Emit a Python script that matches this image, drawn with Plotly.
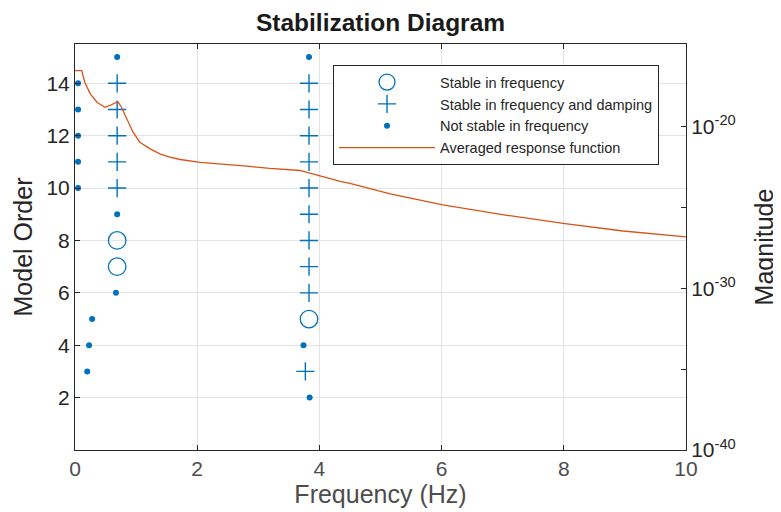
import plotly.graph_objects as go

# ---- data ----
stable_f_x = [0.69, 0.69, 3.83]
stable_f_y = [8, 7, 5]

stable_fd_x = [0.69, 0.69, 0.69, 0.69, 0.69,
               3.83, 3.83, 3.83, 3.83, 3.83, 3.83, 3.83, 3.83, 3.83, 3.77]
stable_fd_y = [14, 13, 12, 11, 10,
               14, 13, 12, 11, 10, 9, 8, 7, 6, 3]

not_stable_x = [0.05, 0.05, 0.05, 0.05, 0.05,
                0.69, 0.69, 0.67,
                0.28, 0.23, 0.20,
                3.83, 3.74, 3.84]
not_stable_y = [14, 13, 12, 11, 10,
                15, 9, 6,
                5, 4, 3,
                15, 4, 2]

resp_freq = [0.0, 0.11, 0.16, 0.25, 0.36, 0.49, 0.57, 0.70, 0.76, 0.84, 0.95,
             1.06, 1.23, 1.39, 1.55, 1.72, 2.05, 2.86, 3.19, 3.68, 3.85, 4.34,
             4.5, 5.16, 6.02, 7.07, 8.02, 8.97, 10.0]
resp_log10 = [-16.54, -16.54, -17.26, -17.98, -18.50, -18.81, -18.70, -18.46,
              -18.81, -19.43, -20.35, -20.97, -21.38, -21.69, -21.90, -22.04,
              -22.22, -22.47, -22.59, -22.72, -22.90, -23.40, -23.52, -24.16,
              -24.84, -25.49, -26.01, -26.46, -26.83]
resp_mag = [10 ** v for v in resp_log10]

x_ticks = [0, 2, 4, 6, 8, 10]
y_ticks = [2, 4, 6, 8, 10, 12, 14]
y2_tickvals = [1e-40, 1e-30, 1e-20]
y2_ticktext = ["10<sup>-40</sup>", "10<sup>-30</sup>", "10<sup>-20</sup>"]
y2_minor = [1e-35, 1e-25]

BLUE = "#0072BD"
ORANGE = "#D95319"
AX = "#262626"
XCOL = "#4d4d4d"
FONT = "Liberation Sans, Arial, sans-serif"

# the page body adds an 8 px margin, so the figure is drawn 8 px smaller
W, H = 773, 504
L, R, T, B = 67, 95, 36, 62

fig = go.Figure()
fig.add_trace(go.Scatter(
    x=stable_f_x, y=stable_f_y, mode="markers", name="Stable in frequency",
    marker=dict(symbol="circle-open", size=17.5, color=BLUE, line=dict(width=1.3, color=BLUE))))
fig.add_trace(go.Scatter(
    x=stable_fd_x, y=stable_fd_y, mode="markers", name="Stable in frequency and damping",
    marker=dict(symbol="cross-thin-open", size=13, color=BLUE, line=dict(width=1.4, color=BLUE))))
fig.add_trace(go.Scatter(
    x=not_stable_x, y=not_stable_y, mode="markers", name="Not stable in frequency",
    marker=dict(symbol="circle", size=6, color=BLUE)))
fig.add_trace(go.Scatter(
    x=resp_freq, y=resp_mag, mode="lines", name="Averaged response function",
    yaxis="y2", line=dict(color=ORANGE, width=1.3)))

fig.update_layout(
    width=W, height=H,
    margin=dict(l=L, r=R, t=T, b=B),
    paper_bgcolor="white", plot_bgcolor="white",
    font=dict(family=FONT, color=AX),
    title=dict(text="<b>Stabilization Diagram</b>", x=(L + (W - R)) / 2 / W, xanchor="center",
               y=1 - 14 / H, yanchor="middle", font=dict(size=24.5, color="#1a1a1a", family=FONT)),
    showlegend=True,
    legend=dict(x=0.4223, y=0.948, xanchor="left", yanchor="top",
                bgcolor="white", bordercolor="#262626", borderwidth=1,
                font=dict(size=14.5, color=AX, family=FONT), itemwidth=96,
                tracegroupgap=0),
    xaxis=dict(range=[0, 10], tickvals=x_ticks, ticks="inside", ticklen=5, tickcolor=AX,
               showline=True, linecolor=AX, linewidth=1, mirror="ticks", automargin=False,
               showgrid=True, gridcolor="#e3e3e3", gridwidth=1, zeroline=False,
               tickfont=dict(size=21, color=XCOL),
               title=dict(text="Frequency (Hz)", font=dict(size=25, color=XCOL), standoff=6)),
    yaxis=dict(range=[0, 15.5], tickvals=y_ticks, ticks="inside", ticklen=5, tickcolor=AX,
               showline=True, linecolor=AX, linewidth=1, automargin=False,
               showgrid=True, gridcolor="#e3e3e3", gridwidth=1, zeroline=False,
               tickfont=dict(size=21, color=AX),
               title=dict(text="Model Order", font=dict(size=25, color=AX), standoff=6)),
    yaxis2=dict(type="log", range=[-40, -14.9], overlaying="y", side="right",
                tickvals=y2_tickvals, ticktext=y2_ticktext, ticks="inside", ticklen=5,
                tickcolor=AX, automargin=False,
                minor=dict(tickvals=y2_minor, ticks="inside", ticklen=5, tickcolor=AX,
                           showgrid=False),
                showline=True, linecolor=AX, linewidth=1, showgrid=False, zeroline=False,
                tickfont=dict(size=21, color=AX),
                title=dict(text="Magnitude", font=dict(size=25, color=AX), standoff=20)),
)

fig.write_html("out.html")
